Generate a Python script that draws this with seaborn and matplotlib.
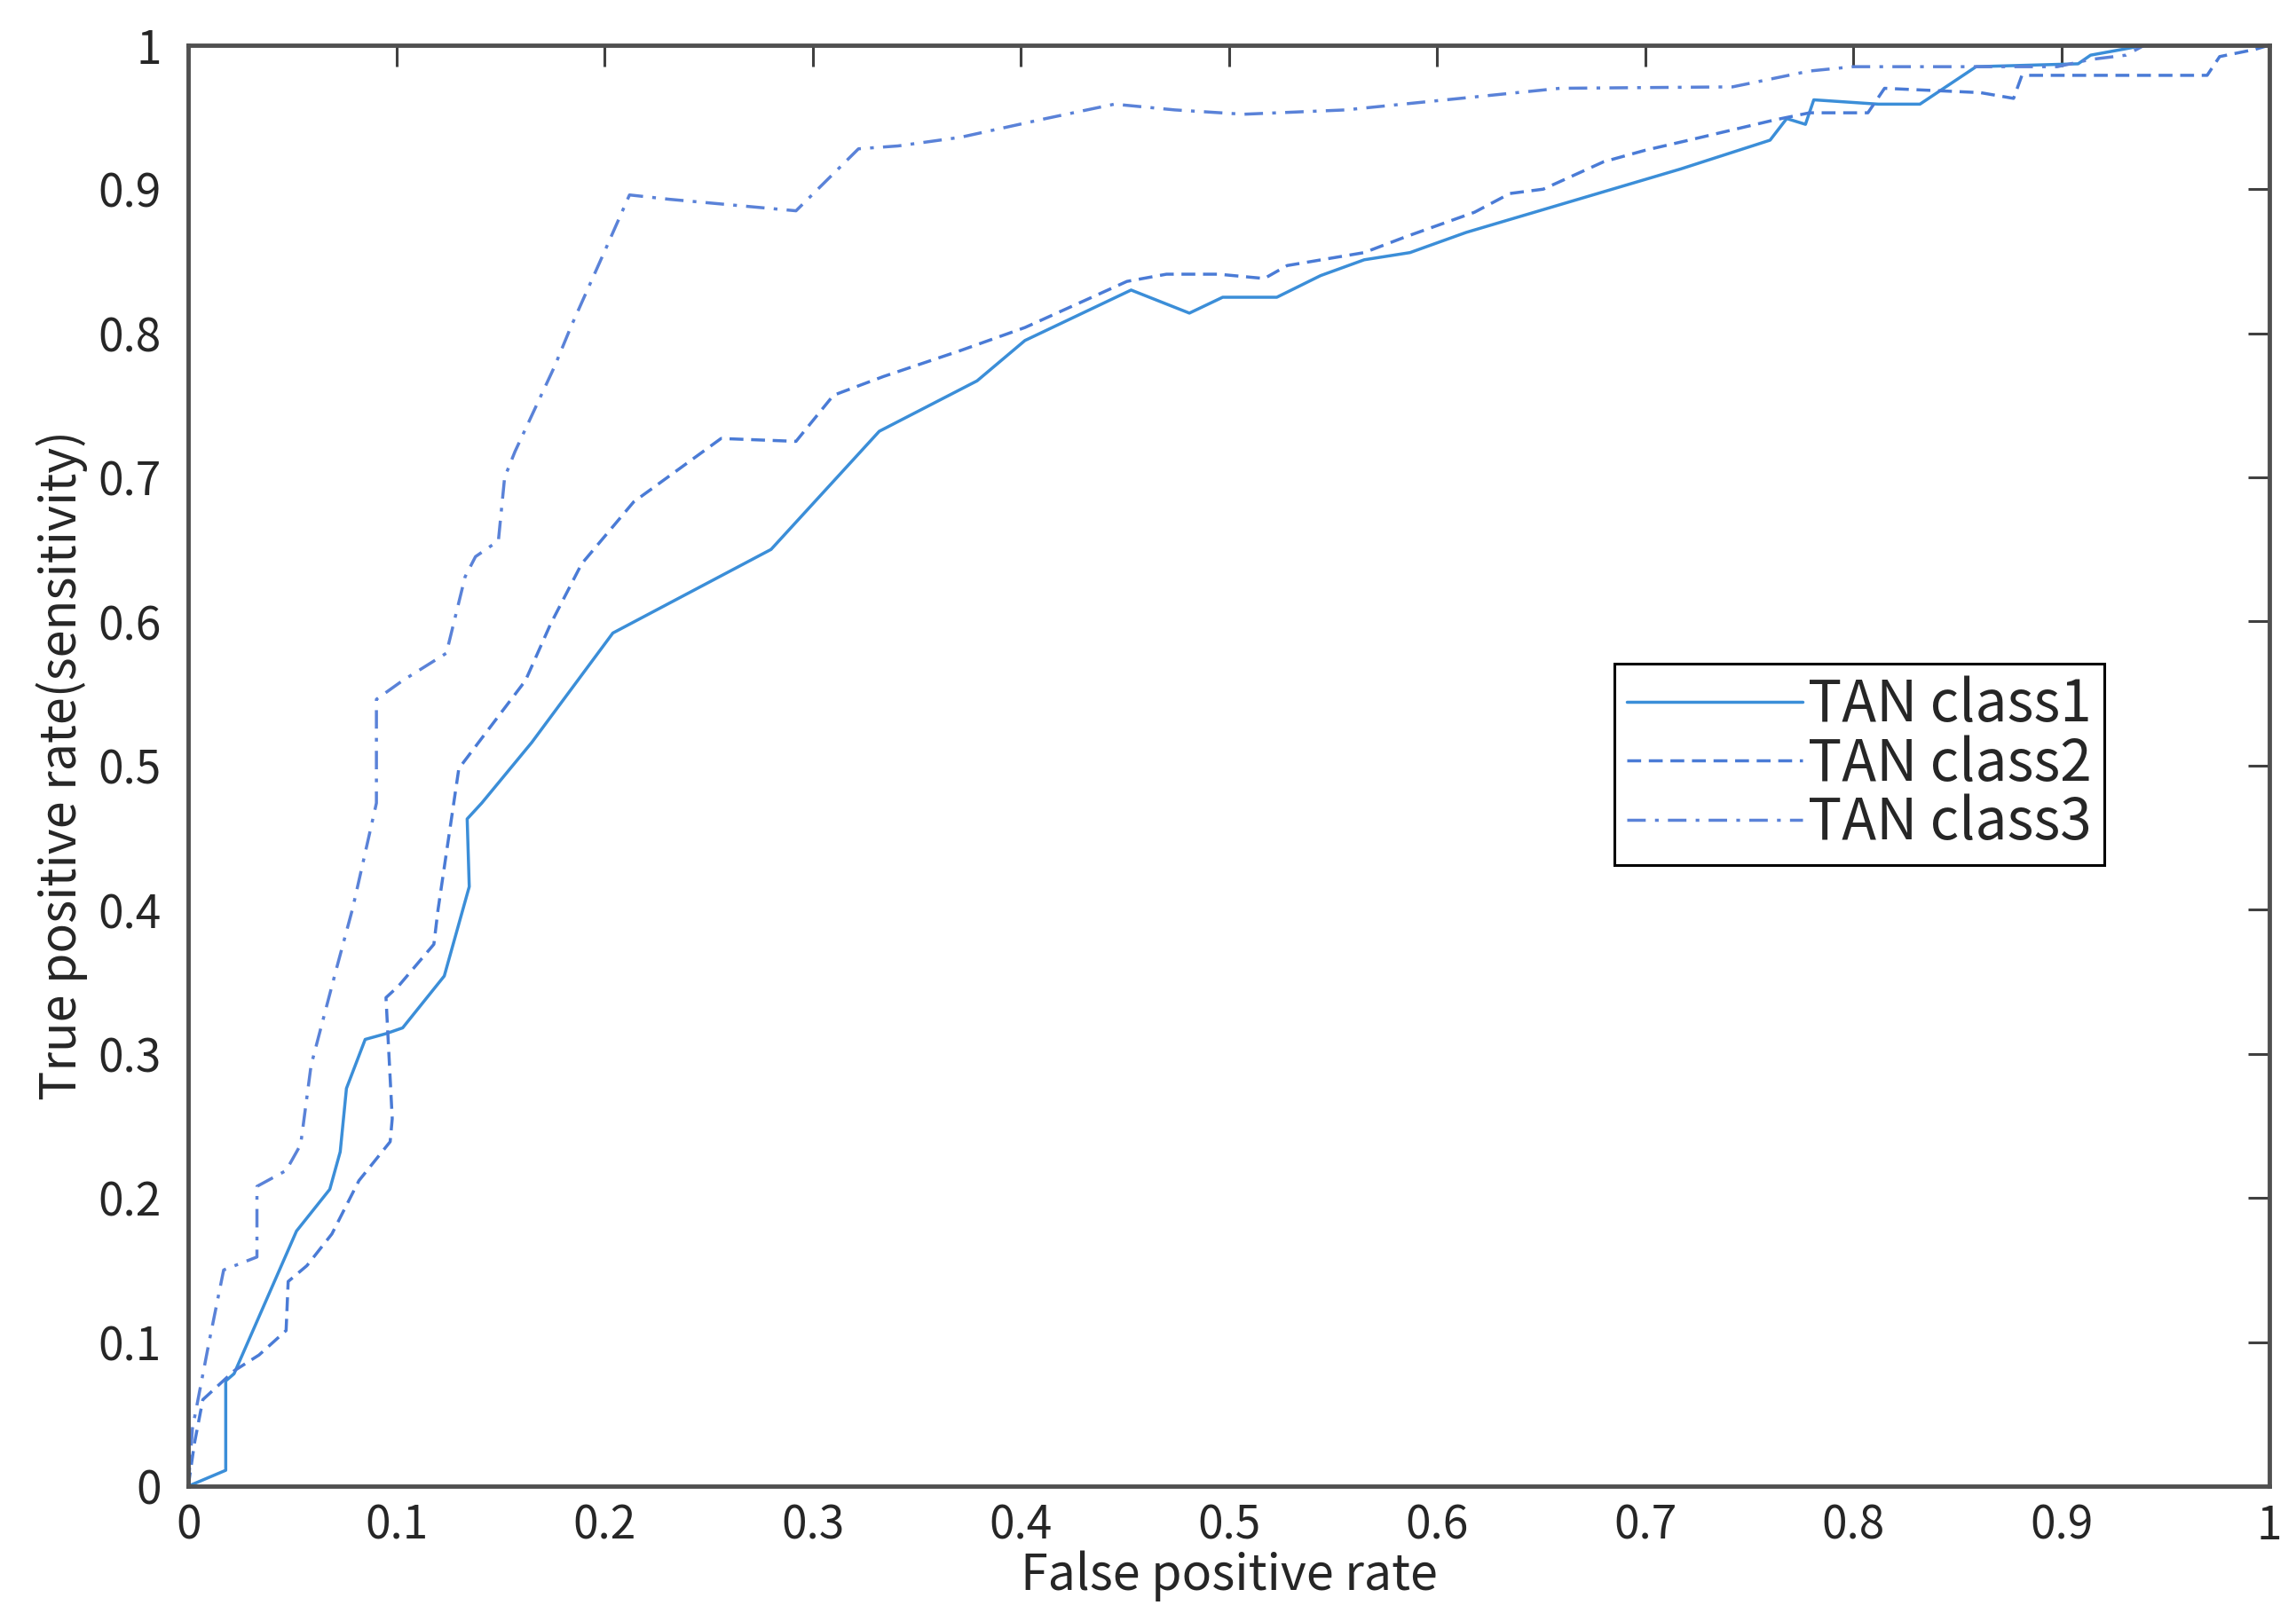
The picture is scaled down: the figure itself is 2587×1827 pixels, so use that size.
import numpy as np
import pandas as pd
import matplotlib
matplotlib.use("Agg")
import matplotlib.pyplot as plt
import seaborn as sns

# ROC curve points
class1_fpr = [0, 0.018, 0.018, 0.022, 0.052, 0.068, 0.073, 0.076, 0.085, 0.095, 0.103, 0.123,
              0.135, 0.134, 0.141, 0.165, 0.204, 0.28, 0.332, 0.379, 0.402, 0.453, 0.481, 0.497,
              0.523, 0.544, 0.565, 0.587, 0.614, 0.717, 0.76, 0.768, 0.777, 0.781, 0.812, 0.832,
              0.859, 0.908, 0.914, 0.933, 0.94, 1.0]
class1_tpr = [0, 0.011, 0.073, 0.078, 0.177, 0.206, 0.232, 0.276, 0.31, 0.314, 0.318, 0.354,
              0.416, 0.463, 0.474, 0.516, 0.592, 0.65, 0.732, 0.767, 0.795, 0.830, 0.814, 0.825,
              0.825, 0.840, 0.851, 0.856, 0.870, 0.914, 0.934, 0.949, 0.945, 0.962, 0.959, 0.959,
              0.985, 0.987, 0.993, 0.998, 1.0, 1.0]

class2_fpr = [0, 0.003, 0.007, 0.022, 0.034, 0.047, 0.048, 0.057, 0.069, 0.082, 0.097, 0.098,
              0.095, 0.101, 0.118, 0.12, 0.13, 0.162, 0.174, 0.189, 0.214, 0.256, 0.292, 0.31,
              0.334, 0.371, 0.402, 0.451, 0.47, 0.495, 0.517, 0.528, 0.565, 0.585, 0.618, 0.635,
              0.651, 0.68, 0.70, 0.721, 0.762, 0.779, 0.807, 0.815, 0.861, 0.877, 0.881, 0.97,
              0.976, 0.993, 1.0]
class2_tpr = [0, 0.03, 0.06, 0.08, 0.091, 0.108, 0.142, 0.153, 0.175, 0.212, 0.239, 0.255,
              0.339, 0.347, 0.376, 0.40, 0.498, 0.559, 0.598, 0.64, 0.683, 0.727, 0.725, 0.757,
              0.77, 0.788, 0.804, 0.836, 0.841, 0.841, 0.838, 0.847, 0.856, 0.867, 0.884, 0.897,
              0.90, 0.919, 0.927, 0.934, 0.948, 0.953, 0.953, 0.970, 0.967, 0.963, 0.979, 0.979,
              0.992, 0.997, 1.0]

class3_fpr = [0, 0.002, 0.004, 0.01, 0.017, 0.033, 0.033, 0.047, 0.054, 0.059, 0.071, 0.079,
              0.0904, 0.0904, 0.103, 0.124, 0.133, 0.138, 0.149, 0.152, 0.157, 0.176, 0.184,
              0.201, 0.212, 0.231, 0.292, 0.322, 0.341, 0.371, 0.412, 0.445, 0.474, 0.507,
              0.556, 0.618, 0.659, 0.742, 0.779, 0.80, 0.898, 0.914, 0.931, 0.94, 1.0]
class3_tpr = [0, 0.04, 0.055, 0.10, 0.15, 0.159, 0.208, 0.219, 0.237, 0.292, 0.358, 0.401,
              0.474, 0.546, 0.559, 0.578, 0.631, 0.645, 0.656, 0.70, 0.718, 0.777, 0.805,
              0.86, 0.896, 0.893, 0.885, 0.928, 0.930, 0.936, 0.949, 0.959, 0.955, 0.952,
              0.955, 0.964, 0.97, 0.971, 0.982, 0.985, 0.985, 0.99, 0.993, 1.0, 1.0]

labels = ["TAN class1", "TAN class2", "TAN class3"]
ticks = [0, 0.1, 0.2, 0.3, 0.4, 0.5, 0.6, 0.7, 0.8, 0.9, 1]
tick_labels = ["0", "0.1", "0.2", "0.3", "0.4", "0.5", "0.6", "0.7", "0.8", "0.9", "1"]

sns.set_theme(style="white")
plt.rcParams['font.family'] = ['Noto Sans CJK KR', 'DejaVu Sans']

fig = plt.figure(figsize=(25.87, 18.27), dpi=100)
ax = fig.add_axes([0.082, 0.0832, 0.9065, 0.889])

colors = ['#3b8ed8', '#4a7bd6', '#5a82d8']
styles = ['-', (0, (4.5, 2.5)), (0, (6, 3, 1.2, 3))]
series = [(class1_fpr, class1_tpr), (class2_fpr, class2_tpr), (class3_fpr, class3_tpr)]

for (fx, ty), lab, c, ls in zip(series, labels, colors, styles):
    df = pd.DataFrame({'fpr': fx, 'tpr': ty})
    sns.lineplot(data=df, x='fpr', y='tpr', sort=False, estimator=None, ax=ax,
                 color=c, linestyle=ls, linewidth=2.5, label=lab)

ax.set_xlim(0, 1)
ax.set_ylim(0, 1)
ax.set_xticks(ticks)
ax.set_xticklabels(tick_labels)
ax.set_yticks(ticks)
ax.set_yticklabels(tick_labels)

for s in ax.spines.values():
    s.set_visible(True)
    s.set_color('#505050')
    s.set_linewidth(3.5)

ax.tick_params(axis='both', direction='in', length=17, width=2.2, color='#404040',
               labelsize=37, labelcolor='#262626', top=True, right=True)
ax.tick_params(axis='x', pad=13)
ax.tick_params(axis='y', pad=22)

ax.set_xlabel("False positive rate", fontsize=40, color='#262626', labelpad=1)
ax.set_ylabel("True positive rate(sensitivity)", fontsize=40, color='#262626', labelpad=8)

leg = ax.legend(loc='upper left', bbox_to_anchor=(0.685, 0.571), borderaxespad=0,
                fontsize=46, handlelength=3.1, handletextpad=0.1, labelspacing=0.0,
                fancybox=False, framealpha=1, edgecolor='black', borderpad=0.22)
leg.get_frame().set_linewidth(2.2)

fig.savefig("out.png", dpi=100, facecolor='white')
